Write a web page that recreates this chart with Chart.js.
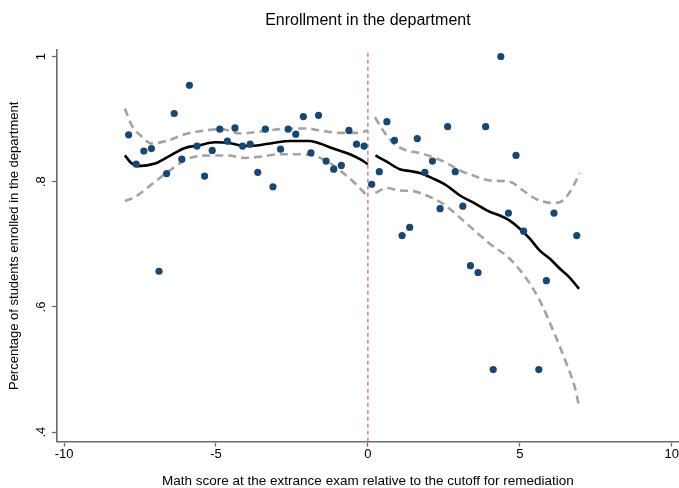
<!DOCTYPE html>
<html>
<head>
<meta charset="utf-8">
<title>Enrollment in the department</title>
<script src="https://cdn.jsdelivr.net/npm/chart.js@4.4.1/dist/chart.umd.min.js"></script>
<style>
  html, body { margin: 0; padding: 0; background: #ffffff; }
  #wrap { width: 679px; height: 488px; position: relative; }
</style>
</head>
<body>
<div id="wrap"><canvas id="chart" width="679" height="488"></canvas></div>
<script>
// Binned means: score relative to cutoff (bin midpoints) and share enrolled
const scoreLeft = [-7.875, -7.625, -7.375, -7.125, -6.875, -6.625, -6.375, -6.125,
  -5.875, -5.625, -5.375, -5.125, -4.875, -4.625, -4.375, -4.125,
  -3.875, -3.625, -3.375, -3.125, -2.875, -2.625, -2.375, -2.125,
  -1.875, -1.625, -1.375, -1.125, -0.875, -0.625, -0.375, -0.125];
const enrolledLeft = [0.875, 0.828, 0.849, 0.853, 0.657, 0.813, 0.909, 0.836,
  0.954, 0.857, 0.809, 0.850, 0.884, 0.865, 0.886, 0.857,
  0.860, 0.815, 0.884, 0.792, 0.852, 0.884, 0.876, 0.904,
  0.846, 0.906, 0.833, 0.820, 0.826, 0.882, 0.860, 0.857];

const scoreRight = [0.125, 0.375, 0.625, 0.875, 1.125, 1.375, 1.625, 1.875,
  2.125, 2.375, 2.625, 2.875, 3.125, 3.375, 3.625, 3.875,
  4.125, 4.375, 4.625, 4.875, 5.125, 5.625, 5.875, 6.125, 6.875];
const enrolledRight = [0.796, 0.816, 0.896, 0.866, 0.714, 0.727, 0.869, 0.815,
  0.833, 0.757, 0.888, 0.816, 0.761, 0.666, 0.655, 0.888,
  0.5, 1.0, 0.75, 0.842, 0.721, 0.5, 0.642, 0.75, 0.714];

// Local fit below the cutoff, with confidence band
const fitLeftX = [-8, -7.77, -7.56, -7.01, -6.57, -6.02, -5.58, -5.03, -4.48, -4.05,
  -3.66, -3.12, -2.57, -1.91, -1.58, -1.14, -0.59, -0.26, 0];
const fitLeft = [0.842, 0.829, 0.825, 0.829, 0.840, 0.854, 0.858, 0.863, 0.861, 0.857,
  0.858, 0.862, 0.865, 0.865, 0.861, 0.853, 0.844, 0.836, 0.828];
const upperLeftX = [-8, -7.77, -7.44, -7.12, -6.57, -6.02, -5.47, -4.81, -4.21, -3.55,
  -2.89, -2.02, -1.47, -0.92, -0.37, 0];
const upperLeft = [0.917, 0.890, 0.872, 0.861, 0.866, 0.876, 0.881, 0.884, 0.877, 0.880,
  0.884, 0.885, 0.881, 0.878, 0.878, 0.882];
const lowerLeftX = [-8, -7.66, -7.01, -6.35, -5.91, -5.25, -4.6, -4.05, -3.55, -2.89,
  -2.24, -1.8, -1.36, -0.92, -0.48, -0.15, 0];
const lowerLeft = [0.769, 0.776, 0.800, 0.824, 0.837, 0.842, 0.842, 0.838, 0.840, 0.844,
  0.844, 0.842, 0.833, 0.818, 0.800, 0.784, 0.776];

// Local fit above the cutoff, with confidence band
const fitRightX = [0.25, 0.62, 1.05, 1.38, 1.71, 2.15, 2.59, 3.03, 3.46, 4.01,
  4.34, 4.67, 5.0, 5.33, 5.66, 5.99, 6.32, 6.64, 6.95];
const fitRight = [0.842, 0.832, 0.820, 0.817, 0.814, 0.805, 0.794, 0.778, 0.767, 0.752,
  0.746, 0.738, 0.725, 0.709, 0.690, 0.677, 0.661, 0.647, 0.629];
const upperRightX = [0.23, 0.5, 0.83, 1.27, 1.71, 2.15, 2.59, 3.03, 3.46, 4.01,
  4.67, 5.11, 5.55, 6.10, 6.42, 6.75, 6.97];
const upperRight = [0.903, 0.882, 0.862, 0.850, 0.846, 0.839, 0.830, 0.818, 0.810, 0.802,
  0.800, 0.786, 0.772, 0.766, 0.770, 0.792, 0.814];
const lowerRightX = [0.25, 0.62, 1.05, 1.49, 1.93, 2.37, 2.81, 3.25, 3.63, 4.01,
  4.67, 5.22, 5.66, 6.10, 6.54, 6.81, 6.95];
const lowerRight = [0.782, 0.790, 0.786, 0.785, 0.778, 0.768, 0.752, 0.733, 0.717, 0.701,
  0.677, 0.645, 0.610, 0.562, 0.509, 0.472, 0.441];

// Axes
const cutoff = 0;
const xTicks = [-10, -5, 0, 5, 10];
const yTicks = [0.4, 0.6, 0.8, 1];
const xRange = [-10.24, 10.24];
const yRange = [0.3848, 1.0104];

const pairs = (xs, ys) => xs.map((x, i) => ({ x: x, y: ys[i] }));

const NAVY = '#1a476f';
const BAND = '#a3a3a3';
const AXIS = '#6b6b6b';
const FONT = '"Liberation Sans", Arial, Helvetica, sans-serif';

const fitStyle = {
  type: 'line', borderColor: '#000000', borderWidth: 2.6, pointRadius: 0,
  cubicInterpolationMode: 'monotone', fill: false, order: 2
};
const bandStyle = {
  type: 'line', borderColor: BAND, borderWidth: 2.6, borderDash: [8, 5],
  pointRadius: 0, cubicInterpolationMode: 'monotone', fill: false, order: 3
};

new Chart(document.getElementById('chart'), {
  data: {
    datasets: [
      { type: 'scatter', label: 'Below cutoff', data: pairs(scoreLeft, enrolledLeft),
        backgroundColor: NAVY, borderColor: NAVY, pointRadius: 3.6, pointBorderWidth: 0, order: 0 },
      { type: 'scatter', label: 'Above cutoff', data: pairs(scoreRight, enrolledRight),
        backgroundColor: NAVY, borderColor: NAVY, pointRadius: 3.6, pointBorderWidth: 0, order: 0 },
      Object.assign({ label: 'Fit below', data: pairs(fitLeftX, fitLeft) }, fitStyle),
      Object.assign({ label: 'Upper below', data: pairs(upperLeftX, upperLeft) }, bandStyle),
      Object.assign({ label: 'Lower below', data: pairs(lowerLeftX, lowerLeft) }, bandStyle),
      Object.assign({ label: 'Fit above', data: pairs(fitRightX, fitRight) }, fitStyle),
      Object.assign({ label: 'Upper above', data: pairs(upperRightX, upperRight) }, bandStyle),
      Object.assign({ label: 'Lower above', data: pairs(lowerRightX, lowerRight) }, bandStyle),
      { type: 'line', label: 'Cutoff', data: [{ x: cutoff, y: yRange[0] }, { x: cutoff, y: yRange[1] }],
        borderColor: '#d4668c', borderWidth: 1.3, borderDash: [4, 3], pointRadius: 0, order: 4 }
    ]
  },
  options: {
    responsive: false,
    animation: false,
    devicePixelRatio: 1,
    layout: { padding: 0, autoPadding: false },
    plugins: {
      legend: { display: false },
      tooltip: { enabled: false },
      title: {
        display: true,
        text: 'Enrollment in the department',
        fullSize: false,
        color: '#000000',
        font: { family: FONT, size: 16, weight: 'normal', lineHeight: 1.2 },
        padding: { top: 11, bottom: 19.8 }
      }
    },
    scales: {
      x: {
        type: 'linear',
        position: 'bottom',
        min: xRange[0],
        max: xRange[1],
        afterBuildTicks: (s) => { s.ticks = xTicks.map(v => ({ value: v })); },
        // the axis runs to the right edge; the last label may sit against it
        afterFit: (s) => { s.paddingLeft = 0; s.paddingRight = 0; },
        grid: { display: true, drawOnChartArea: false, drawTicks: true, tickLength: 5,
                tickColor: AXIS, tickWidth: 1.3 },
        border: { display: true, color: AXIS, width: 1.6 },
        ticks: { color: '#000000', padding: 0, maxRotation: 0,
                 font: { family: FONT, size: 13 },
                 callback: (v) => String(v) },
        title: { display: true,
                 text: 'Math score at the extrance exam relative to the cutoff for remediation',
                 color: '#000000', font: { family: FONT, size: 13.5, lineHeight: 1.2 },
                 padding: { top: 11, bottom: -1.5 } }
      },
      y: {
        type: 'linear',
        position: 'left',
        min: yRange[0],
        max: yRange[1],
        afterBuildTicks: (s) => { s.ticks = yTicks.map(v => ({ value: v })); },
        grid: { display: true, drawOnChartArea: false, drawTicks: true, tickLength: 5,
                tickColor: AXIS, tickWidth: 1.3 },
        border: { display: true, color: AXIS, width: 1.6 },
        ticks: { color: '#000000', padding: 5, minRotation: 90, maxRotation: 90,
                 crossAlign: 'center',
                 font: { family: FONT, size: 13 },
                 callback: (v) => (v === 1 ? '1' : v.toFixed(1).replace(/^0/, '')) },
        title: { display: true,
                 text: 'Percentage of students enrolled in the department',
                 color: '#000000', font: { family: FONT, size: 13, lineHeight: 1.2 },
                 padding: { top: 7, bottom: 3.6 } }
      }
    }
  }
});
</script>
</body>
</html>
